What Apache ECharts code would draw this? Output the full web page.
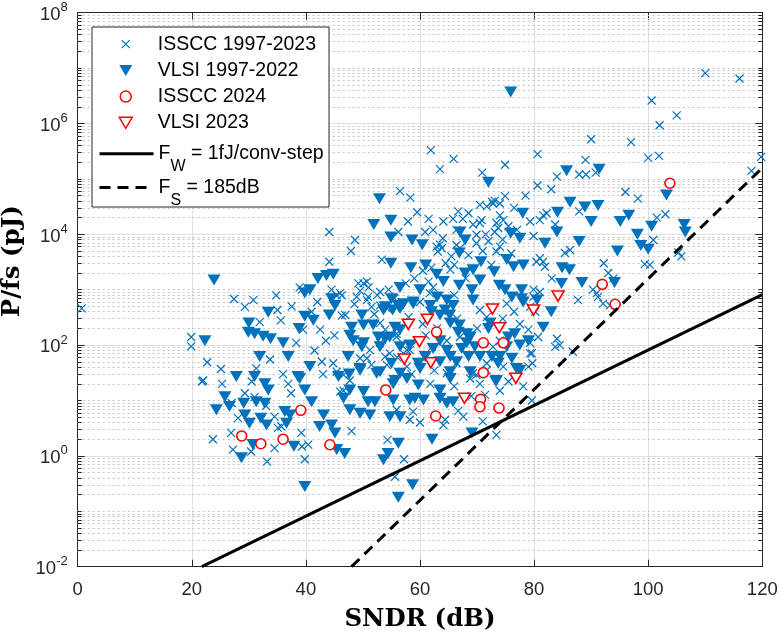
<!DOCTYPE html>
<html><head><meta charset="utf-8">
<script src="https://cdn.jsdelivr.net/npm/echarts@6/dist/echarts.min.js"></script>
<style>html,body{margin:0;padding:0;background:#fff}#c{width:782px;height:637px}</style>
</head><body><div id="c"></div>
<script>
// ---- data: [SNDR (dB), P/fs (pJ)] ----
const isscc9723 = [
[61.9,3.3e5],[63.5,1.5e5],[65.9,2.3e5],[70.9,1.3e5],[74.9,1.8e5],[56.5,6.0e4],[58.3,4.6e4],[74.9,4.9e4],[73.1,4.0e4],[80.6,2.8e5],[80.6,7.6e4],
[110.0,8.1e6],[116.0,6.5e6],[100.6,2.6e6],[105.0,1.4e6],[102.0,9.3e5],[90.0,5.2e5],[97.0,4.6e5],[89.0,2.2e5],[100.0,2.4e5],[101.9,2.6e5],[119.8,2.5e5],[84.0,1.1e5],[87.9,1.2e5],[89.1,1.2e5],[90.8,1.3e5],[118.1,1.4e5],[96.0,5.8e4],[98.2,4.4e4],
[81.6,2.2e4],[82.2,2.4e4],[81.0,1.8e4],[87.9,2.6e4],[101.5,2.0e4],[103.0,2.3e4],[83.7,1.5e4],[79.9,9.3e3],[100.9,7.9e3],[86.3,5.2e3],[85.4,4.6e3],[105.3,4.7e3],[105.8,4.0e3],[81.0,3.7e3],[81.6,3.2e3],[80.4,3.2e3],[81.9,2.6e3],[92.2,3.0e3],[99.4,2.9e3],[100.3,2.8e3],[83.1,1.6e3],[93.0,2.0e3],[93.9,1.6e3],[90.3,1.0e3],[91.0,8.7e2],[91.2,7.4e2],[92.1,5.6e2],[87.7,6.5e2],[81.0,9.1e2],[79.9,7.4e2],[93.3,5.2e2],[80.2,4.0e2],[80.7,1.4e2],[84.0,1.3e2],[84.5,1.0e2],[83.7,93],[86.8,76],[79.6,71],[79.7,47],
[57.9,1.7e4],[56.2,1.1e4],[44.1,1.1e4],[48.6,7.9e3],[47.9,5.0e3],[60.9,1.1e4],[44.1,3.2e3],[53.3,3.5e3],[63.5,6.5e3],[63.8,5.6e3],[63.1,4.9e3],[64.1,1.7e4],[65.8,1.9e4],[66.7,2.6e4],[66.4,6.4e3],[67.0,5.6e3],[69.9,6.9e3],[70.5,1.6e4],[70.8,1.8e4],[69.3,1.5e4],[71.7,3.2e4],[72.8,3.6e4],[72.6,3.9e4],[74.0,2.2e4],[74.6,1.8e4],[73.4,1.6e4],[73.7,1.3e4],[73.1,1.1e4],[79.3,1.7e4],[74.0,6.0e3],[73.4,4.9e3],[61.5,1.4e3],[79.3,71],[79.0,41],[45.4,7.9e2],[46.3,3.4e2],[46.9,3.5e2],[39.3,1.0e3],[42.8,50],[48.9,7.4e2],[50.7,6.5e2],[50.1,1.3e3],[50.7,1.4e3],[46.6,29],[45.4,33],[50.7,58],[51.5,44],[54.2,44],[54.7,71],[57.1,71],
[74.0,3.6e4],[70.5,3.4e4],[69.9,9.8e3],[66.4,1.2e4],[62.3,1.2e4],[62.9,6.0e3],[65.3,2.3e3],[62.3,1.1e3],[61.7,8.7e2],[71.7,3.2e2],[70.5,4.3e2],[75.2,5.6e2],[79.3,4.9e2],[79.0,1.9e2],[79.9,1.0e3],[44.8,47],[53.0,9.1e2],[51.5,4.9e2],[54.2,4.6e2],[49.2,1.3e3],[53.0,2.5e2],[53.9,1.9e2],[55.9,1.6e2],[57.7,81],[62.1,93],[64.7,1.2e2],[67.0,1.4e2],[72.8,93],[74.0,1.2e2],[79.3,1.1e2],[71.7,35],[69.3,31],[44.5,1.0e3],[46.0,8.7e2],[39.5,1.9e2],[42.5,1.9e2],
[46.3,7.9e2],[50.9,7.4e2],[53.0,5.2e2],[53.0,1.1e2],[53.9,62],[51.2,81],[46.6,15],[47.7,23],[57.7,41],[61.2,62],[66.4,47],[68.8,25],[71.7,47],[74.6,41],[78.1,18],[79.6,10],[74.0,15],[64.7,31],[49.5,58],[55.9,1.4e2],[58.2,81],[61.8,20],[58.8,6.3],[64.4,4.5],[67.6,5.1],
[0.7,4.6e2],[27.4,6.8e2],[30.8,6.5e2],[34.8,7.9e2],[29.3,4.9e2],[38.9,1.1e3],[35.0,4.3e2],[35.6,2.8e2],[31.9,2.6e2],[38.3,1.1e2],[19.9,1.4e2],[19.9,95],[33.7,55],[22.7,49],[25.1,37],[31.3,38],[22.0,23],
[21.8,22],[25.3,20],[29.3,13.5],[31.0,11.5],[36.9,20],[37.4,13.5],[28.1,4.8],[34.5,5.1],[35.1,3.2],[35.7,3.4],[23.7,2.0],[26.9,2.6],[27.2,1.3],[30.4,1.2],[33.2,0.79],[34.5,1.38],[39.2,2.6],[39.3,1.48],[39.8,0.87],
[40.4,1.6],[46.0,14.5],[48.0,2.8],[55.9,6.8],[54.3,1.95],[57.2,0.87],[55.6,0.42],[58.2,4.5],[60.0,4.0],[64.1,3.6],[66.7,6.5],[71.0,4.2],[73.4,2.4],[71.4,12.6],[75.5,22],[69.9,29],[70.5,20],
[49.5,9.5e2],[51.0,1.1e3],[52.5,8.0e2],[54.5,1.0e3],[55.5,7.0e2],[48.5,5.5e2],[52.0,3.6e2],[57.5,1.3e3],[59.0,1.6e3],[60.5,2.2e3],[62.0,2.5e3],[64.5,3.0e3],[65.5,4.0e3],[66.0,2.8e3],[64.0,8.5e3],[68.5,4.2e3],[71.0,5.0e3],[72.0,7.5e3],[74.5,8.0e3],[71.5,1.0e4],[75.5,1.4e4],[77.0,1.2e4],[76.0,4.5e3],[72.5,2.8e3],[68.0,1.6e3],[66.0,8.0e2],[60.0,6.0e2],[58.0,3.2e2],[60.5,2.4e2],[63.0,2.0e2],[66.5,3.0e2],[70.0,2.0e2],[74.5,3.0e2],[76.5,4.0e2],[77.5,2.4e2],[59.5,1.2e2],[61.0,1.5e2],[56.0,60],[58.5,30],[62.5,35],[66.0,18],[69.0,12],[42.0,6.0e2],[41.0,4.0e2],[43.5,1.2e2],[45.0,1.5e2],[37.5,5.0e2],[41.5,80],[43.0,30],[36.0,30],[33.0,8],[27.0,9],[30.5,22],
[59.5,2.5e4],[61.5,1.9e4],[67.5,1.9e4],[68.5,2.4e4],[76.5,3.0e4],[78.5,5.0e4],[83.0,6.5e4]
];
const vlsi9722 = [
[75.9,3.7e6],[72.0,8.7e4],[52.9,4.4e4],
[85.7,1.4e5],[91.4,1.5e5],[103.2,5.1e4],[86.3,3.8e4],[91.2,3.3e4],
[88.9,3.1e4],[84.1,2.5e4],[90.0,1.7e4],[95.1,1.7e4],[96.6,2.2e4],[100.6,1.4e4],[106.3,1.5e4],[106.5,1.1e4],[84.0,1.1e4],[98.1,1.0e4],[98.7,6.3e3],[100.0,5.4e3],[87.9,7.4e3],[81.9,6.9e3],[94.6,5.0e3],[84.9,2.5e3],[86.2,2.3e3],[84.8,1.3e3],[88.4,1.35e3],[94.1,1.35e3],[83.0,4.0e2],[81.6,2.1e2],
[51.9,1.5e4],[54.9,1.8e4],[54.9,8.9e3],[58.6,7.9e3],[60.4,6.5e3],[54.9,3.0e3],[58.4,2.5e3],[61.0,2.8e3],[67.0,1.1e4],[67.9,7.9e3],[66.9,4.6e3],[75.9,1.05e4],[77.5,8.5e3],[78.0,2.4e4],[70.7,3.2e3],[69.3,2.3e3],[67.9,2.0e3],[70.5,1.5e3],[73.0,2.1e3],[75.2,3.5e3],[76.4,2.6e3],[78.1,2.8e3],[73.9,1.2e3],[74.9,1.0e3],[77.8,1.0e3],[77.8,6.9e2],[69.3,6.5e2],[69.1,1.0e3],[66.9,1.2e3],[62.9,1.9e3],[64.1,1.4e3],[60.0,1.0e3],[63.0,7.4e2],[64.7,6.5e2],[65.8,5.2e2],[56.5,1.1e3],[57.1,5.6e2],[58.8,6.0e2],[56.2,5.2e2],[55.0,6.9e2],[53.6,4.3e2],[55.2,4.3e2],[62.0,4.0e2],[63.5,3.5e2],[65.2,3.5e2],[66.9,2.3e2],[68.2,1.6e2],[68.2,1.1e2],[69.6,93],[70.5,62],[68.5,62],[72.0,2.0e2],[74.0,62],[75.2,93],[76.6,1.6e2],[77.5,1.0e2],[77.5,35],[40.7,1.0e3],[39.8,8.7e2],[42.1,1.6e3],[43.6,1.8e3],[44.8,1.9e3],[44.5,6.9e2],[45.1,5.2e2],[44.1,3.5e2],[39.8,3.3e2],[41.3,2.8e2],[48.0,2.1e2],[50.1,2.3e2],[48.3,1.2e2],[49.8,93],[47.4,62],[49.5,38],[47.6,30],[40.7,41],[52.7,1.4e2],[53.0,93],[54.7,1.4e2],[56.5,1.9e2],[56.5,93],[58.2,1.0e2],[53.0,33],[55.0,47],[56.5,31],[59.7,47],[60.9,62],[64.7,81],[63.5,50],[65.3,33],[66.4,50],[68.8,33],
[49.8,3.5e2],[47.7,1.5e2],[50.1,1.1e2],[53.9,1.3e2],[51.8,2.3e2],[55.6,2.1e2],[53.9,4.9e2],[56.5,4.6e2],[58.8,5.6e2],[61.8,5.2e2],[64.4,4.3e2],[65.3,2.5e2],[63.5,1.2e2],[66.7,1.7e2],[68.8,1.4e2],[67.3,87],[65.3,62],[62.3,87],[60.0,38],[57.7,25],[59.7,19],[55.6,23],[52.4,31],[49.5,35],[47.7,15.5],[50.1,14.5],[52.1,9.5],[55.3,10.2],[58.2,10.2],[56.5,5.1],[65.3,25],[63.5,15.5],[65.8,9.5],[72.6,62],[73.7,47],[76.1,58],[76.9,38],[75.5,1.4e2],[79.0,1.2e2],[72.3,2.5e2],[76.1,7.4e2],[78.1,6.0e2],[45.7,27],[46.6,11],[51.2,5.5],[60.6,10.2],[73.4,23],[80.5,6.5e2],
[23.9,1.5e3],[33.4,3.9e2],[30.0,2.5e2],[29.9,1.7e2],[31.0,1.6e2],[32.5,1.45e2],[33.8,1.3e2],[36.0,1.1e2],[38.8,2.0e2],[22.3,1.2e2],[31.9,62],[36.9,62],[27.8,27],[31.0,27],[38.6,27],
[32.8,20],[25.8,11.7],[24.3,6.8],[26.6,7.8],[29.1,8.9],[31.3,9.5],[32.8,8.9],[33.4,15.5],[29.3,5.5],[30.1,3.9],[32.1,4.8],[33.1,3.6],[37.2,5.5],[36.6,3.9],[30.7,1.6],[28.7,0.93],[37.9,1.5],[39.8,0.28],[38.9,25],[36.3,6.3],
[39.8,15.5],[41.0,9.5],[43.1,5.5],[42.4,3.4],[44.5,3.6],[45.1,2.6],[46.8,1.1],[45.4,1.3],[47.7,6.8],[49.5,5.9],[50.9,9.5],[54.7,5.1],[56.2,1.7],[54.4,1.1],[53.6,0.85],[56.2,0.18],[58.7,0.30],[62.1,2.0],[55.3,20],[59.1,11],[63.5,11],[64.7,8.9],[69.1,2.6],[73.3,22]
];
const isscc2024 = [
[28.75,2.29],[32.1,1.66],[36.0,2.0],[39.1,6.65],[44.2,1.59],[54.0,15.5],[62.75,5.25],[62.9,172],[71.1,110],[74.6,110],[71.1,31.8],[70.6,10.5],[70.5,7.7],[73.85,7.3],[91.95,1250],[94.2,545],[103.8,8.34e4]
];
const vlsi2023 = [
[57.25,56],[57.95,237],[59.9,115],[61.3,292],[61.9,48],[67.8,11],[72.7,448],[73.9,206],[76.8,25.2],[79.9,430],[84.2,769]
];
// reference lines (end points): Walden FoM 1 fJ/conv-step and Schreier FoM 185 dB
const fwLine = [[21.76,0.01],[120,818]];
const fsLine = [[48.0,0.01],[120,1.58e5]];
// axis ticks
const xTickInterval = 20;
const yExpInterval = 2;
const minorMantissas = [2,3,4,5,6,7,8,9];
const decades = [-2,-1,0,1,2,3,4,5,6,7];

const NAMES = ['ISSCC 1997-2023','VLSI 1997-2022','ISSCC 2024','VLSI 2023','FW = 1fJ/conv-step','FS = 185dB'];
const FF = 'Liberation Sans';
const AX = '#262626';
const BLUE = '#0072BD', RED = '#FF0000';

const minorVals = [];
decades.forEach(d => {
  if (d % 2 !== 0) minorVals.push(Math.pow(10, d));
  minorMantissas.forEach(m => minorVals.push(m * Math.pow(10, d)));
});
const minorGrid = minorVals.map(v => ({yAxis: v}));
const minorTicks = [];
minorVals.forEach(v => {
  minorTicks.push([{coord:[0, v]}, {coord:[0.7, v]}]);
  minorTicks.push([{coord:[119.3, v]}, {coord:[120, v]}]);
});

const crossPath = 'path://M0,0L8,8M8,0L0,8';
const crossIcon = 'path://M0,0M54,14M23,3L31,11M31,3L23,11';
const triPath = 'path://M0,0L13,0L6.5,11Z';
const triIcon = 'path://M0,0M54,14M20.5,1.5L33.5,1.5L27,12.5Z';
const circIcon = 'path://M0,0M54,14M32.5,7A5.5,5.5,0,1,1,21.5,7A5.5,5.5,0,1,1,32.5,7Z';

const legendRich = {
  a:  {fontFamily: FF, fontSize: 19.5, lineHeight: 20, color: '#000'},
  m:  {fontFamily: FF, fontSize: 19.5, lineHeight: 44, color: '#000'},
  s:  {fontFamily: FF, fontSize: 16, lineHeight: 16, padding: [25.6, 0, 0, 0], color: '#000'}
};
const legendText = {};
legendText[NAMES[0]] = '{a|ISSCC 1997-2023}';
legendText[NAMES[1]] = '{a|VLSI 1997-2022}';
legendText[NAMES[2]] = '{a|ISSCC 2024}';
legendText[NAMES[3]] = '{a|VLSI 2023}';
legendText[NAMES[4]] = '{m|F}{s|W}{m| = 1fJ/conv-step}';
legendText[NAMES[5]] = '{m|F}{s|S}{m| = 185dB}';

const nameStyle = {fontFamily: 'DejaVu Serif', fontWeight: 'bold', fontSize: 24.5, color: '#000'};
const hiddenDot = {color: 'rgba(0,0,0,0)', borderColor: 'rgba(0,0,0,0)', borderWidth: 0};

const chart = echarts.init(document.getElementById('c'), null, {renderer: 'canvas'});
chart.setOption({
  animation: false,
  backgroundColor: '#fff',
  textStyle: {fontFamily: FF},
  grid: {left: 77.7, right: 19.7, top: 12.7, bottom: 70.3, containLabel: false, outerBoundsMode: 'none'},
  legend: [{
    show: true, orient: 'vertical', left: 92, top: 27,
    padding: [7.2, 13, 74.2, 6], itemGap: 6.2, itemWidth: 54, itemHeight: 14,
    backgroundColor: '#fff', borderColor: AX, borderWidth: 1, borderRadius: 0,
    selectedMode: false,
    formatter: n => legendText[n],
    textStyle: {fontFamily: FF, fontSize: 19.5, color: '#000', rich: legendRich},
    data: [
      {name: NAMES[0], icon: crossIcon, itemStyle: {borderWidth: 1.2}},
      {name: NAMES[1], icon: triIcon},
      {name: NAMES[2], icon: circIcon, itemStyle: {borderWidth: 1.5}},
      {name: NAMES[3], icon: triIcon, itemStyle: {borderWidth: 1.5}}
    ]
  }, {
    show: true, orient: 'vertical', left: 98, top: 133,
    padding: 0, itemGap: -8, itemWidth: 54, itemHeight: 14,
    selectedMode: false,
    formatter: n => legendText[n],
    textStyle: {fontFamily: FF, fontSize: 19.5, color: '#000', rich: legendRich},
    data: [
      {name: NAMES[4], lineStyle: {width: 3}, itemStyle: hiddenDot},
      {name: NAMES[5], lineStyle: {width: 3}, itemStyle: hiddenDot}
    ]
  }],
  xAxis: [{
    type: 'value', min: 0, max: 120, interval: xTickInterval, position: 'bottom',
    name: 'SNDR (dB)', nameLocation: 'middle', nameGap: 40, nameTextStyle: nameStyle,
    axisLine: {show: true, onZero: false, lineStyle: {color: AX, width: 1}},
    axisTick: {show: true, inside: true, length: 7, lineStyle: {color: AX}},
    axisLabel: {margin: 14, fontFamily: FF, fontSize: 18.5, color: AX},
    splitLine: {show: true, lineStyle: {color: '#dfdfdf', width: 1}}
  }, {
    type: 'value', min: 0, max: 120, interval: xTickInterval, position: 'top',
    axisLine: {show: true, onZero: false, lineStyle: {color: AX, width: 1}},
    axisTick: {show: true, inside: true, length: 7, lineStyle: {color: AX}},
    axisLabel: {show: false}, splitLine: {show: false}
  }],
  yAxis: [{
    type: 'log', logBase: 10, min: 0.01, max: 1e8, interval: yExpInterval, splitNumber: 5, position: 'left',
    name: 'P/fs (pJ)', nameLocation: 'middle', nameGap: 41,
    nameTextStyle: Object.assign({padding: [0, 0, 0, 57]}, nameStyle),
    axisLine: {show: true, onZero: false, lineStyle: {color: AX, width: 1}},
    axisTick: {show: true, inside: true, length: 7, lineStyle: {color: AX}},
    axisLabel: {
      margin: 10,
      formatter: v => '{b|10}{e|' + Math.round(Math.log10(v)) + '}',
      rich: {
        b: {fontFamily: FF, fontSize: 18.5, lineHeight: 19, color: AX, padding: [4.6, 0, 0, 0]},
        e: {fontFamily: FF, fontSize: 13, lineHeight: 13, color: AX, padding: [0, 0, 10, 0]}
      }
    },
    splitLine: {show: true, lineStyle: {color: '#dfdfdf', width: 1}}
  }, {
    type: 'log', logBase: 10, min: 0.01, max: 1e8, interval: yExpInterval, splitNumber: 5, position: 'right',
    axisLine: {show: true, onZero: false, lineStyle: {color: AX, width: 1}},
    axisTick: {show: true, inside: true, length: 7, lineStyle: {color: AX}},
    axisLabel: {show: false}, splitLine: {show: false}
  }],
  series: [
    {
      type: 'line', name: '_minor', data: [], silent: true, symbol: 'none',
      markLine: {silent: true, z: 1, symbol: 'none', animation: false, label: {show: false},
        lineStyle: {type: [2, 3], color: '#c4c4c4', width: 1}, emphasis: {disabled: true},
        data: minorGrid}
    },
    {
      type: 'line', name: '_minorTicks', data: [], silent: true, symbol: 'none',
      markLine: {silent: true, z: 1, symbol: 'none', animation: false, label: {show: false},
        lineStyle: {type: 'solid', color: AX, width: 1}, emphasis: {disabled: true},
        data: minorTicks}
    },
    {
      type: 'scatter', name: NAMES[0], data: isscc9723, silent: true,
      symbol: crossPath, symbolSize: 8,
      itemStyle: {color: 'rgba(0,0,0,0)', borderColor: BLUE, borderWidth: 1.2, opacity: 1}
    },
    {
      type: 'scatter', name: NAMES[1], data: vlsi9722, silent: true,
      symbol: triPath, symbolSize: [13, 11],
      itemStyle: {color: BLUE, borderWidth: 0, opacity: 1}
    },
    {
      type: 'scatter', name: NAMES[2], data: isscc2024, silent: true,
      symbol: 'circle', symbolSize: 10,
      itemStyle: {color: '#fff', borderColor: RED, borderWidth: 1.6, opacity: 1}
    },
    {
      type: 'scatter', name: NAMES[3], data: vlsi2023, silent: true,
      symbol: triPath, symbolSize: [12, 10],
      itemStyle: {color: '#fff', borderColor: RED, borderWidth: 1.6, opacity: 1}
    },
    {
      type: 'line', name: NAMES[4], data: fwLine, silent: true, symbol: 'none', showSymbol: false,
      lineStyle: {color: '#000', width: 3, type: 'solid'}, itemStyle: {color: '#000'}
    },
    {
      type: 'line', name: NAMES[5], data: fsLine, silent: true, symbol: 'none', showSymbol: false,
      lineStyle: {color: '#000', width: 3, type: [11, 7]}, itemStyle: {color: '#000'}
    }
  ]
});
</script>
</body></html>
